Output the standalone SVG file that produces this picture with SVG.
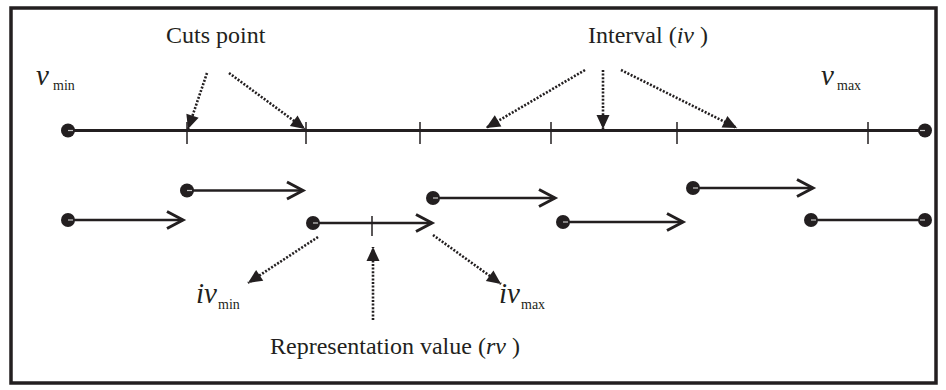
<svg xmlns="http://www.w3.org/2000/svg" width="946" height="390" viewBox="0 0 946 390">
<style>
.frame{fill:none;stroke:#231f20;stroke-width:3.5}
.axis{stroke:#231f20;stroke-width:3;fill:none}
.seg{stroke:#231f20;stroke-width:2.6;fill:none}
.tick{stroke:#231f20;stroke-width:1.5}
.dot{fill:#231f20}
.glint{stroke:#c8c8c8;stroke-width:1.2}
.dotted{stroke:#231f20;stroke-width:2.6;stroke-dasharray:2 1.6;fill:none}
.lbl{font-size:24px;fill:#231f20}
.var{font-style:italic;font-size:29px;fill:#231f20}
.sub{font-size:14px;fill:#231f20}
</style>
<defs>
<marker id="tri" markerUnits="userSpaceOnUse" markerWidth="16" markerHeight="14" refX="14" refY="6.5" orient="auto" overflow="visible">
<path d="M0,0 L14,6.5 L0,13 z" fill="#231f20"/>
</marker>
<marker id="open" markerUnits="userSpaceOnUse" markerWidth="20" markerHeight="20" refX="0" refY="0" orient="auto" overflow="visible">
<path d="M-16,-8.5 L0,0 L-16,8.5" fill="none" stroke="#231f20" stroke-width="3" stroke-linejoin="miter"/>
</marker>
</defs>

<rect class="frame" x="11" y="8" width="925" height="375"/>

<g id="axis">
<line class="axis" x1="68" y1="130.5" x2="925" y2="130.5"/>
<line class="tick" x1="187" y1="122" x2="187" y2="144"/>
<line class="tick" x1="306" y1="122" x2="306" y2="144"/>
<line class="tick" x1="420" y1="122" x2="420" y2="144"/>
<line class="tick" x1="551" y1="122" x2="551" y2="144"/>
<line class="tick" x1="677" y1="122" x2="677" y2="144"/>
<line class="tick" x1="868" y1="122" x2="868" y2="144"/>
<circle class="dot" cx="68" cy="130.5" r="7"/>
<line class="glint" x1="68" y1="130.5" x2="73" y2="130.5"/>
<circle class="dot" cx="925" cy="130.5" r="7"/>
<line class="glint" x1="920" y1="130.5" x2="925" y2="130.5"/>
</g>

<g id="label-vmin" font-family="'Liberation Serif', serif"><text class="var" x="36" y="85">v</text><text class="sub" x="53" y="90">min</text></g>
<g id="label-vmax" font-family="'Liberation Serif', serif"><text class="var" x="821" y="85">v</text><text class="sub" x="837" y="90">max</text></g>
<g id="label-cuts" font-family="'Liberation Serif', serif"><text class="lbl" x="166" y="43">Cuts point</text></g>
<g id="label-interval" font-family="'Liberation Serif', serif"><text class="lbl" x="588" y="43">Interval (<tspan font-style="italic">iv</tspan> )</text></g>

<g id="interval-1">
<line class="seg" x1="68" y1="220" x2="183" y2="220" marker-end="url(#open)"/>
<circle class="dot" cx="68" cy="220" r="7"/><line class="glint" x1="68" y1="220" x2="73" y2="220"/>
</g>
<g id="interval-2">
<line class="seg" x1="187" y1="190.5" x2="303" y2="190.5" marker-end="url(#open)"/>
<circle class="dot" cx="187" cy="190.5" r="7"/><line class="glint" x1="187" y1="190.5" x2="192" y2="190.5"/>
</g>
<g id="interval-3">
<line class="seg" x1="313" y1="223" x2="432" y2="223" marker-end="url(#open)"/>
<line class="tick" x1="372" y1="216" x2="372" y2="236"/>
<circle class="dot" cx="313" cy="223" r="7"/><line class="glint" x1="313" y1="223" x2="318" y2="223"/>
</g>
<g id="interval-4">
<line class="seg" x1="433" y1="198" x2="555" y2="198" marker-end="url(#open)"/>
<circle class="dot" cx="433" cy="198" r="7"/><line class="glint" x1="433" y1="198" x2="438" y2="198"/>
</g>
<g id="interval-5">
<line class="seg" x1="563" y1="222" x2="683" y2="222" marker-end="url(#open)"/>
<circle class="dot" cx="563" cy="222" r="7"/><line class="glint" x1="563" y1="222" x2="568" y2="222"/>
</g>
<g id="interval-6">
<line class="seg" x1="693" y1="188" x2="813" y2="188" marker-end="url(#open)"/>
<circle class="dot" cx="693" cy="188" r="7"/><line class="glint" x1="693" y1="188" x2="698" y2="188"/>
</g>
<g id="interval-7">
<line class="seg" x1="811" y1="220" x2="925" y2="220"/>
<circle class="dot" cx="811" cy="220" r="7"/><line class="glint" x1="811" y1="220" x2="816" y2="220"/>
<circle class="dot" cx="925" cy="220" r="7"/><line class="glint" x1="920" y1="220" x2="925" y2="220"/>
</g>

<g id="label-ivmin" font-family="'Liberation Serif', serif"><text class="var" x="196" y="303">iv</text><text class="sub" x="218" y="309">min</text></g>
<g id="label-ivmax" font-family="'Liberation Serif', serif"><text class="var" x="499" y="303">iv</text><text class="sub" x="521" y="309">max</text></g>
<g id="label-rv" font-family="'Liberation Serif', serif"><text class="lbl" x="270" y="354">Representation value (<tspan font-style="italic">rv</tspan> )</text></g>

<g id="connectors">
<line class="dotted" x1="207" y1="73" x2="188" y2="129" marker-end="url(#tri)"/>
<line class="dotted" x1="229" y1="73" x2="305" y2="129" marker-end="url(#tri)"/>
<line class="dotted" x1="585" y1="70" x2="486" y2="128" marker-end="url(#tri)"/>
<line class="dotted" x1="603" y1="70" x2="603" y2="129" marker-end="url(#tri)"/>
<line class="dotted" x1="621" y1="70" x2="737" y2="128" marker-end="url(#tri)"/>
<line class="dotted" x1="318" y1="237" x2="248" y2="283" marker-end="url(#tri)"/>
<line class="dotted" x1="433" y1="235" x2="501" y2="284" marker-end="url(#tri)"/>
<line class="dotted" x1="373" y1="320" x2="373" y2="247" marker-end="url(#tri)"/>
</g>
</svg>
